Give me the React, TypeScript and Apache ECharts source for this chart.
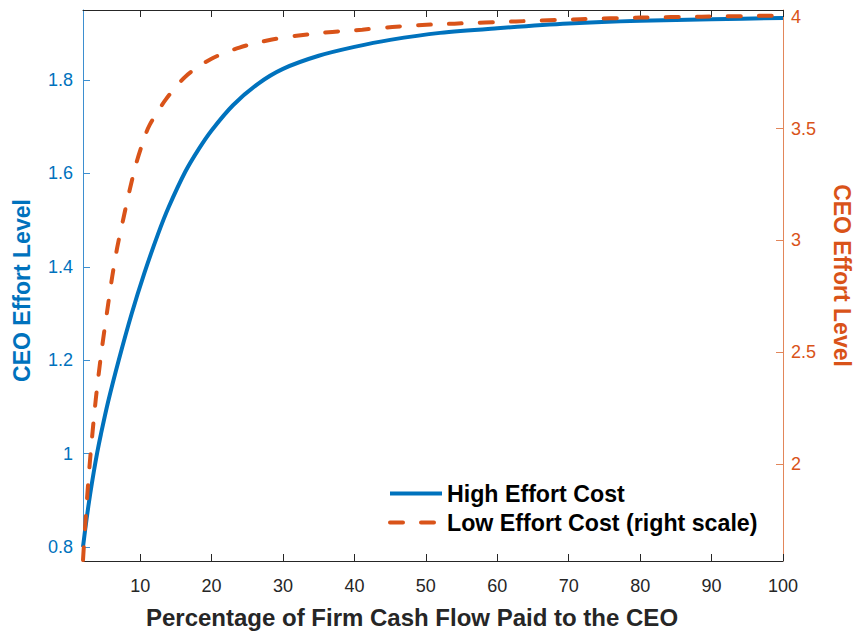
import React, { useEffect, useRef } from "react";
import * as echarts from "echarts";

// Percentage of firm cash flow paid to the CEO (x) and CEO effort level (y)
const xHigh = [2.0, 2.5, 3.0, 3.5, 4.0, 4.5, 5.5, 7.0, 8.8, 10.6, 12.5, 14.0, 16.3, 18.2, 20.0, 23.0, 26.5, 30, 35, 40, 45, 52, 60, 70, 80, 90, 100];
const yHigh = [0.8, 0.86, 0.913, 0.96, 1.003, 1.041, 1.11, 1.2, 1.299, 1.387, 1.47, 1.528, 1.603, 1.652, 1.692, 1.746, 1.792, 1.824, 1.852, 1.871, 1.886, 1.901, 1.911, 1.921, 1.927, 1.93, 1.933];

const xLow = [2.0, 2.4, 2.75, 3.1, 3.6, 4.0, 4.7, 5.5, 6.1, 6.8, 7.7, 8.6, 9.5, 10.5, 11.3, 13.6, 16.4, 19.8, 23.9, 28.3, 32.2, 36.9, 41.1, 45.3, 49.5, 54, 62.6, 71.6, 80, 88.6, 97.2, 100];
const yLow = [1.57, 1.77, 1.925, 2.06, 2.23, 2.35, 2.53, 2.71, 2.84, 2.97, 3.105, 3.235, 3.35, 3.45, 3.515, 3.631, 3.735, 3.81, 3.863, 3.898, 3.917, 3.933, 3.943, 3.955, 3.964, 3.97, 3.98, 3.99, 3.997, 4.001, 4.005, 4.006];

const xTicks = [10, 20, 30, 40, 50, 60, 70, 80, 90, 100];
const leftTicks = [0.8, 1, 1.2, 1.4, 1.6, 1.8];
const rightTicks = [2, 2.5, 3, 3.5, 4];

const seriesNames = ["High Effort Cost", "Low Effort Cost (right scale)"];
const xTitle = "Percentage of Firm Cash Flow Paid to the CEO";
const yTitle = "CEO Effort Level";

export default function App() {
  const ref = useRef<HTMLDivElement>(null);
  useEffect(() => {
    const chart = echarts.init(ref.current!, null, { renderer: "svg" });
    const font = "'Liberation Sans', Arial, Helvetica, sans-serif";
    const blue = "#0072BD";
    const orange = "#D95319";
    const dark = "#262626";
    chart.setOption({
      animation: false,
      backgroundColor: "#ffffff",
      textStyle: { fontFamily: font },
      grid: { left: 83, right: 74, top: 10, bottom: 73, containLabel: false, outerBoundsMode: "none" },
      legend: {
        left: 388,
        top: 482,
        padding: 0,
        orient: "vertical",
        itemWidth: 52,
        itemHeight: 14,
        itemGap: 6,
        data: seriesNames,
        itemStyle: { opacity: 0 },
        lineStyle: { width: 4 },
        textStyle: { fontSize: 23.2, fontWeight: "bold", color: "#000", fontFamily: font },
      },
      xAxis: [
        {
          type: "value",
          position: "bottom",
          min: 2,
          max: 100,
          axisLine: { onZero: false, lineStyle: { color: dark, width: 1 } },
          axisTick: { inside: true, length: 7, customValues: xTicks, lineStyle: { color: dark } },
          axisLabel: { customValues: xTicks, color: dark, fontSize: 18, margin: 16, fontFamily: font },
          splitLine: { show: false },
          name: xTitle,
          nameLocation: "middle",
          nameGap: 44,
          nameTextStyle: { fontWeight: "bold", fontSize: 24, color: dark, fontFamily: font, padding: [0, 42, 0, 0] },
        },
        {
          type: "value",
          position: "top",
          min: 2,
          max: 100,
          axisLine: { onZero: false, lineStyle: { color: dark, width: 1 } },
          axisTick: { inside: true, length: 7, customValues: xTicks, lineStyle: { color: dark } },
          axisLabel: { show: false },
          splitLine: { show: false },
        },
      ],
      yAxis: [
        {
          type: "value",
          position: "left",
          min: 0.77,
          max: 1.95,
          axisLine: { show: true, onZero: false, lineStyle: { color: "#3d8fd0", width: 1 } },
          axisTick: { show: true, inside: true, length: 7, customValues: leftTicks, lineStyle: { color: "#3d8fd0" } },
          axisLabel: { customValues: leftTicks, color: blue, fontSize: 18, margin: 10, fontFamily: font },
          splitLine: { show: false },
          name: yTitle,
          nameLocation: "middle",
          nameGap: 50,
          nameTextStyle: { color: blue, fontWeight: "bold", fontSize: 23, fontFamily: font, padding: [0, 10, 0, 0] },
        },
        {
          type: "value",
          position: "right",
          min: 1.566,
          max: 4.031,
          axisLine: { show: true, onZero: false, lineStyle: { color: "#e2865a", width: 1 } },
          axisTick: { show: true, inside: true, length: 7, customValues: rightTicks, lineStyle: { color: "#e2865a" } },
          axisLabel: { customValues: rightTicks, color: orange, fontSize: 18, margin: 8, fontFamily: font },
          splitLine: { show: false },
          name: yTitle,
          nameLocation: "middle",
          nameGap: 47,
          nameRotate: -90,
          nameTextStyle: { color: orange, fontWeight: "bold", fontSize: 23, fontFamily: font, padding: [0, 20, 0, 0] },
        },
      ],
      series: [
        {
          name: seriesNames[0],
          type: "line",
          xAxisIndex: 0,
          yAxisIndex: 0,
          data: xHigh.map((x, i) => [x, yHigh[i]]),
          symbol: "none",
          showSymbol: false,
          smooth: 0.3,
          lineStyle: { color: blue, width: 4 },
          itemStyle: { color: blue },
        },
        {
          name: seriesNames[1],
          type: "line",
          xAxisIndex: 0,
          yAxisIndex: 1,
          data: xLow.map((x, i) => [x, yLow[i]]),
          symbol: "none",
          showSymbol: false,
          smooth: 0.3,
          lineStyle: { color: orange, width: 4, type: [13, 18], cap: "round" },
          itemStyle: { color: orange },
        },
      ],
    });
    return () => chart.dispose();
  }, []);
  return (
    <div
      ref={ref}
      style={{ position: "fixed", left: 0, top: 0, width: 857, height: 634, background: "#fff" }}
    />
  );
}
